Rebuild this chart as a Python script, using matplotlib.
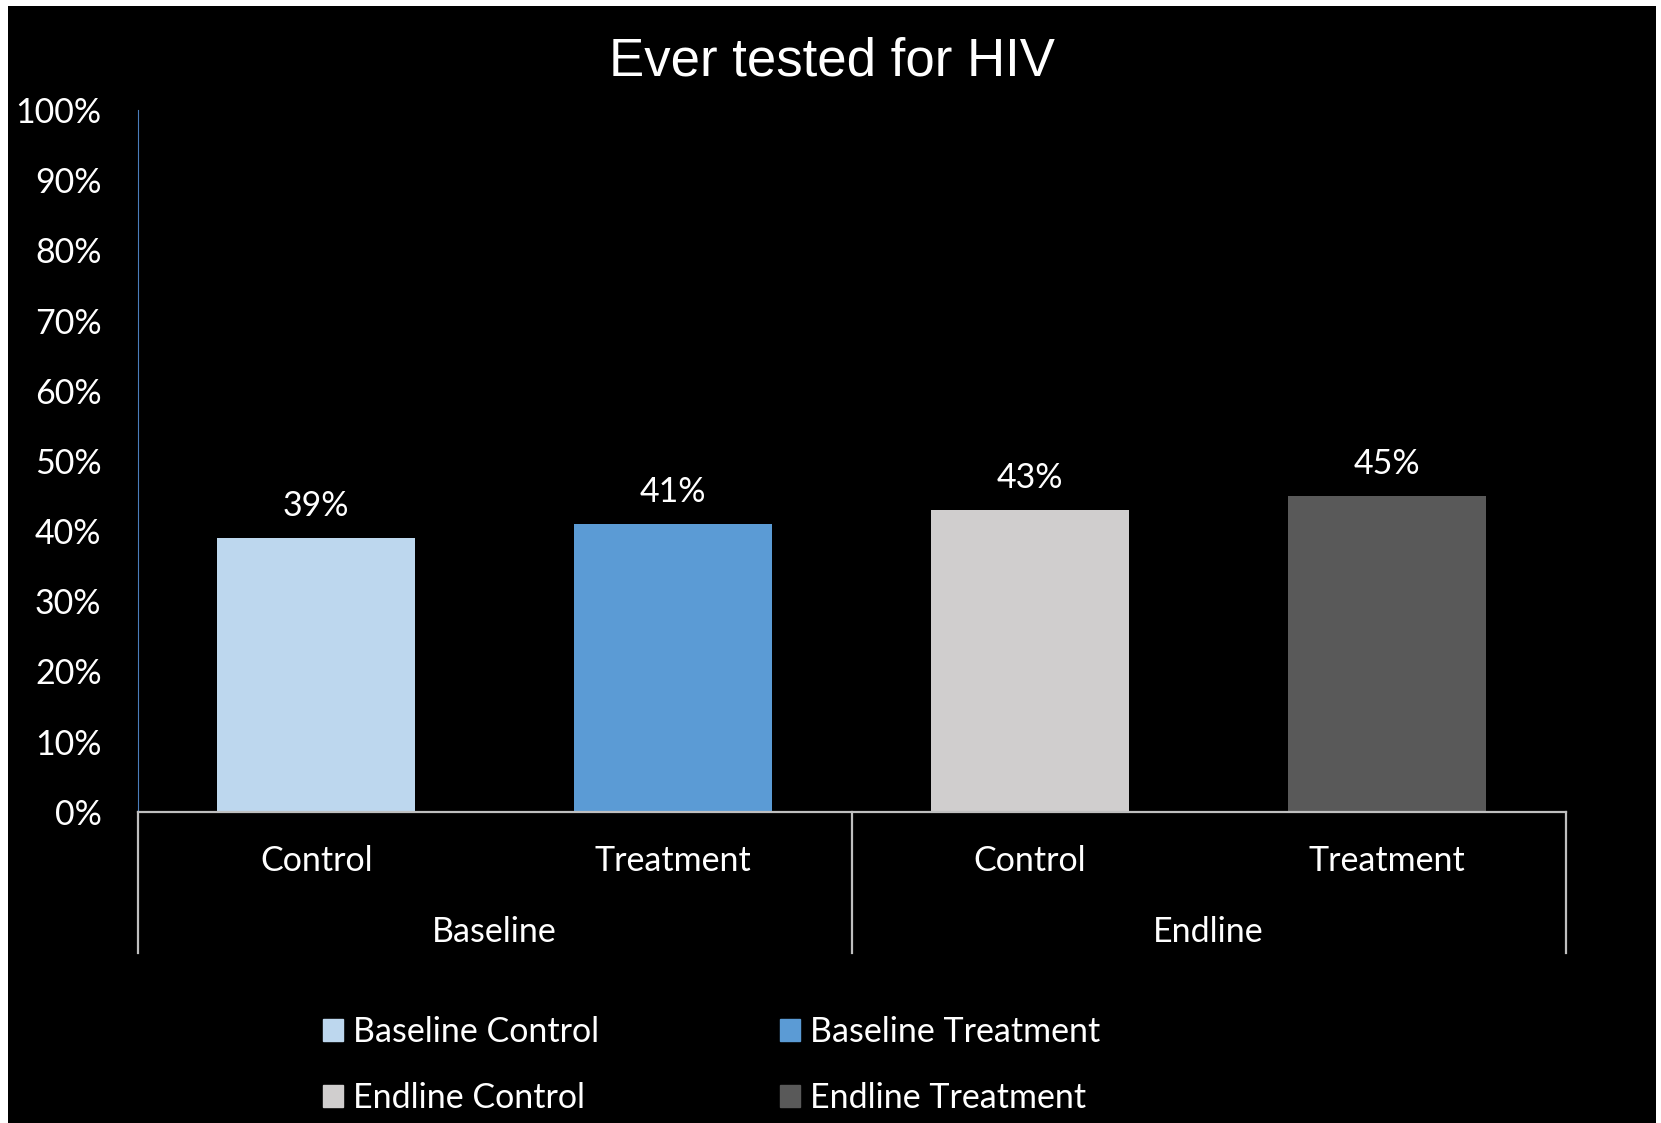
import matplotlib
matplotlib.use('Agg')
import matplotlib.pyplot as plt
from matplotlib.patches import Rectangle
import numpy as np

# ---- data ----
groups = ['Baseline', 'Endline']
arms = ['Control', 'Treatment']
series = ['Baseline Control', 'Baseline Treatment', 'Endline Control', 'Endline Treatment']
values = [0.39, 0.41, 0.43, 0.45]
colors = ['#BDD7EE', '#5B9BD5', '#D0CECE', '#595959']
yticks = np.arange(0, 1.01, 0.1)

plt.rcParams['font.family'] = ['Lato', 'DejaVu Sans']
fs = 24.5

fig = plt.figure(figsize=(16.61, 11.23), dpi=100, facecolor='white')
# black slide background with thin white margin
fig.patches.append(Rectangle((8 / 1661, 0), 1648 / 1661, 1117 / 1123,
                             transform=fig.transFigure, facecolor='black',
                             edgecolor='none', zorder=-10))

ax = fig.add_axes([0.0829, 0.2772, 0.8597, 0.6248])
ax.set_facecolor('none')

x = np.arange(len(values))
bars = ax.bar(x, values, width=0.555, color=colors, zorder=2)
for b, v in zip(bars, values):
    ax.annotate('{:.0%}'.format(v), (b.get_x() + b.get_width() / 2, v),
                xytext=(0, 23), textcoords='offset points',
                ha='center', va='center', color='white', fontsize=fs)

ax.set_xlim(-0.5, len(values) - 0.5)
ax.set_ylim(0, 1)
ax.set_yticks(yticks)
ax.set_yticklabels(['{:.0%}'.format(t) for t in yticks])
ax.tick_params(axis='y', length=0, pad=26, labelcolor='white', labelsize=fs)
ax.set_xticks([])

for s in ['top', 'right']:
    ax.spines[s].set_visible(False)
ax.spines['left'].set_color('#4A7EBB')
ax.spines['left'].set_linewidth(0.8)
ax.spines['bottom'].set_color('#BFBFBF')
ax.spines['bottom'].set_linewidth(1.6)
ax.spines['bottom'].set_zorder(4)

# multi-level category axis
trans = ax.get_xaxis_transform()
for xb in [-0.5, 1.5, 3.5]:
    ax.plot([xb, xb], [0, -0.2014], transform=trans, color='#BFBFBF',
            lw=1.6, clip_on=False, zorder=3)
labels1 = arms * len(groups)
for xi, lab in zip(x, labels1):
    ax.text(xi, -0.0706, lab, transform=trans, ha='center', va='center',
            color='white', fontsize=fs)
for gi, g in enumerate(groups):
    ax.text(gi * 2 + 0.5, -0.1715, g, transform=trans, ha='center', va='center',
            color='white', fontsize=fs)

fig.text(0.501, 1 - 61 / 1123, 'Ever tested for HIV', ha='center', va='center',
         color='white', fontsize=38, family='Liberation Sans')

# legend, filled row by row
order = [0, 2, 1, 3]
handles = [Rectangle((0, 0), 1, 1, color=colors[i]) for i in order]
leg = fig.legend(handles, [series[i] for i in order], ncol=2,
                 loc='center left', bbox_to_anchor=(0.1758, 0.0515),
                 frameon=False, fontsize=fs, handlelength=0.6, handleheight=0.6,
                 handletextpad=0.3, columnspacing=5.3, labelspacing=1.0)
for t in leg.get_texts():
    t.set_color('white')

fig.savefig('out.png', dpi=100, facecolor=fig.get_facecolor())
